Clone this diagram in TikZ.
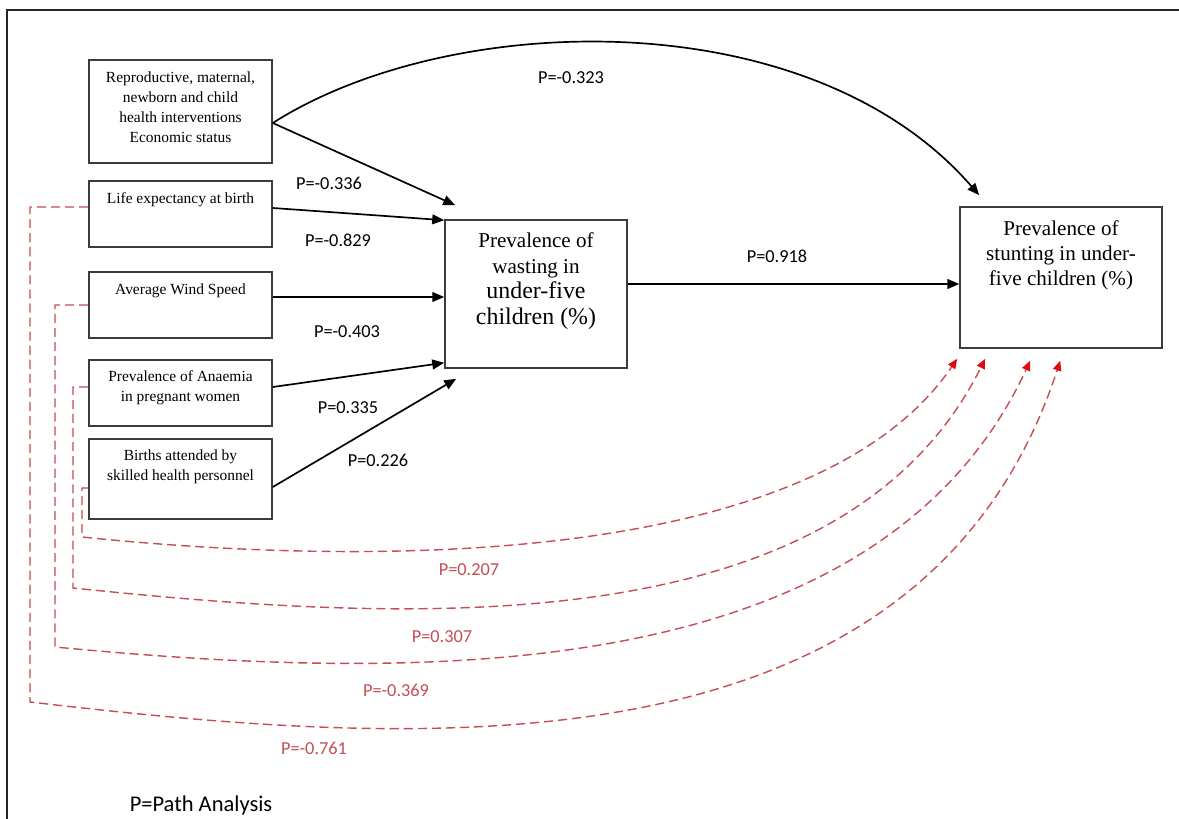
\documentclass[tikz,border=0pt]{standalone}
\usepackage{fontspec}
\setmainfont{Liberation Serif}
\newfontfamily\labfont{Carlito}
\usetikzlibrary{arrows.meta,calc}
\definecolor{dashred}{RGB}{196,78,84}
\definecolor{tipred}{RGB}{222,10,20}
\definecolor{boxgray}{RGB}{60,60,60}
\begin{document}
\begin{tikzpicture}[x=0.025cm, y=-0.025cm,
  box/.style={draw=boxgray, line width=1.1pt, fill=white, inner sep=0pt, rectangle},
  btext/.style={font=\fontsize{11}{14.2}\selectfont, align=center, inner sep=0pt},
  mtext/.style={font=\fontsize{15}{18.2}\selectfont, align=center, inner sep=0pt},
  stext/.style={font=\fontsize{15}{17.7}\selectfont, align=center, inner sep=0pt},
  plab/.style={font=\labfont\fontsize{13}{15}\selectfont, inner sep=0pt},
  rlab/.style={plab, text=dashred},
  arr/.style={line width=1.2pt, -{Triangle[length=8.5pt,width=7pt]}},
  darr/.style={draw=dashred, line width=1pt, dash pattern=on 6.5pt off 3.5pt,
               -{Triangle[length=7pt,width=6pt,color=tipred,fill=tipred]}}]
\useasboundingbox (0,0) rectangle (1179,819);
\fill[white] (0,0) rectangle (1179,819);
% frame
\draw[line width=1.4pt, black!85] (7,819) -- (7,10) -- (1179,10);

% boxes
\node[box, minimum width=4.575cm, minimum height=2.575cm] (b1) at (180.5,111.5) {};
\node[box, minimum width=4.575cm, minimum height=1.65cm] (b2) at (180.5,214) {};
\node[box, minimum width=4.575cm, minimum height=1.65cm] (b3) at (180.5,305) {};
\node[box, minimum width=4.575cm, minimum height=1.65cm] (b4) at (180.5,393) {};
\node[box, minimum width=4.575cm, minimum height=2cm] (b5) at (180.5,479) {};
\node[box, minimum width=4.55cm, minimum height=3.7cm] (mid) at (536,294) {};
\node[box, minimum width=5.05cm, minimum height=3.525cm] (st) at (1061,277.5) {};

% box texts
\node[btext] (t1) at (180.5,107) {Reproductive, maternal,\\newborn and child\\health interventions\\Economic status};
\node[btext] (t2) at (180.5,200) {Life expectancy at birth};
\node[btext] (t3) at (180.5,291) {Average Wind Speed};
\node[btext] (t4) at (180.5,388) {Prevalence of Anaemia\\in pregnant women};
\node[btext] (t5) at (180.5,467) {Births attended by\\skilled health personnel};
\node[mtext] (t6) at (536,281) {Prevalence of\\wasting in\\{\fontsize{17}{19.5}\selectfont under-five}\\{\fontsize{17}{19.5}\selectfont children (\%)}};
\node[stext] (t7) at (1061,255) {Prevalence of\\stunting in under-\\five children (\%)};

% solid arrows
\draw[arr] ($(b1.east)+(0,11.5)$) -- ($(mid.north west)+(11,-14)$);
\draw[arr] ($(b1.east)+(0,11.5)$) .. controls (450,10) and (810,0) .. ($(st.north west)+(20,-11)$);
\draw[arr] ($(b2.east)+(0,-6)$) -- ($(mid.north west)+(0,1)$);
\draw[arr] ($(b3.east)+(0,-8)$) -- ($(mid.west)+(0,3)$);
\draw[arr] ($(b4.east)+(0,-6)$) -- ($(mid.south west)+(0,-6)$);
\draw[arr] ($(b5.east)+(0,8)$) -- ($(mid.south west)+(12,10)$);
\draw[arr] ($(mid.east)+(0,-10)$) -- ($(st.west)+(0,6.5)$);

% dashed connectors
\coordinate (k1) at (82,537);
\coordinate (k2) at (73,588);
\coordinate (k3) at (55,647);
\coordinate (k4) at (30,702);
\draw[darr] ($(b5.west)+(0,9)$) -| (k1) .. controls (400,570) and (820,560) .. ($(st.south west)+(-2,10)$);
\draw[darr] ($(b4.west)+(0,-6)$) -| (k2) .. controls (400,622) and (840,650) .. ($(st.south west)+(26,10)$);
\draw[darr] (b3.west) -| (k3) .. controls (400,680) and (875,695) .. ($(st.south west)+(71,12)$);
\draw[darr] ($(b2.west)+(0,-7)$) -| (k4) .. controls (400,745) and (920,790) .. ($(st.south west)+(101,12)$);

% labels
\node[plab] (l1) at (571,78) {P=-0.323};
\node[plab] (l2) at (329,183) {P=-0.336};
\node[plab] (l3) at (338,240) {P=-0.829};
\node[plab] (l4) at (777,256) {P=0.918};
\node[plab] (l5) at (347,332) {P=-0.403};
\node[plab] (l6) at (348,408) {P=0.335};
\node[plab] (l7) at (378,460) {P=0.226};
\node[rlab] (l8) at (469,570) {P=0.207};
\node[rlab] (l9) at (442,637) {P=0.307};
\node[rlab] (l10) at (396,690) {P=-0.369};
\node[rlab] (l11) at (314,748) {P=-0.761};
\node[font=\labfont\fontsize{16}{18}\selectfont, inner sep=0pt] (leg) at (201,806) {P=Path Analysis};
\end{tikzpicture}
\end{document}
